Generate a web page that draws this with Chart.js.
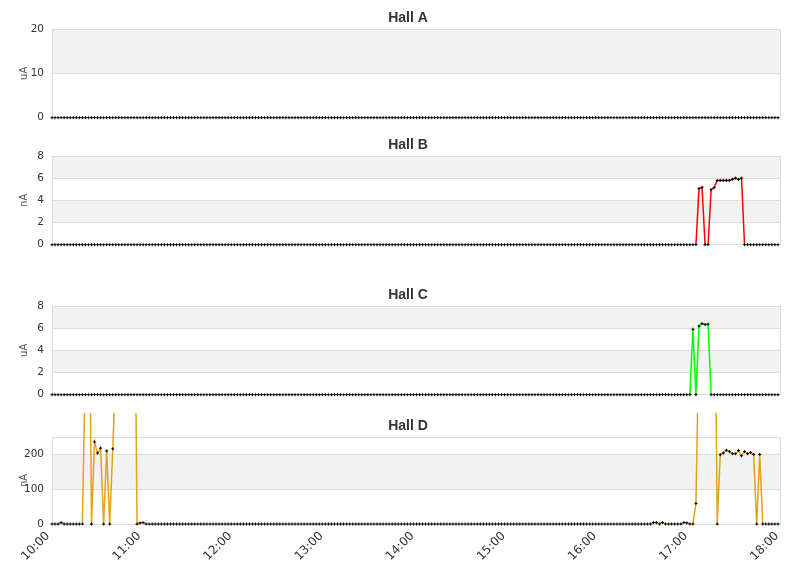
<!DOCTYPE html>
<html><head><meta charset="utf-8">
<script src="https://cdn.jsdelivr.net/npm/chart.js@4"></script>
<style>
html,body{margin:0;padding:0;background:#fff;overflow:hidden;width:811px;height:578px}
.p{position:absolute;left:5px;width:806px}
</style></head><body>
<div class="p" style="top:0px;height:132px"><canvas id="cA"></canvas></div>
<div class="p" style="top:127px;height:132px"><canvas id="cB"></canvas></div>
<div class="p" style="top:277px;height:132px"><canvas id="cC"></canvas></div>
<div class="p" style="top:408px;height:170px"><canvas id="cD"></canvas></div>
<script>
// x grid: sample times every 2 minutes from 10:00 (minutes since 10:00)
const sampleMinutes = [];
for (let k = 0; k < 240; k++) sampleMinutes.push(2 * k);
const tickLabels = ['10:00','11:00','12:00','13:00','14:00','15:00','16:00','17:00','18:00'];
const panelTitles = ['Hall A','Hall B','Hall C','Hall D'];
const unitLabels = ['uA','nA','uA','nA'];

const hallA = [
0,0,0,0,0,0,0,0,0,0,0,0,0,0,0,0,0,0,0,0,
0,0,0,0,0,0,0,0,0,0,0,0,0,0,0,0,0,0,0,0,
0,0,0,0,0,0,0,0,0,0,0,0,0,0,0,0,0,0,0,0,
0,0,0,0,0,0,0,0,0,0,0,0,0,0,0,0,0,0,0,0,
0,0,0,0,0,0,0,0,0,0,0,0,0,0,0,0,0,0,0,0,
0,0,0,0,0,0,0,0,0,0,0,0,0,0,0,0,0,0,0,0,
0,0,0,0,0,0,0,0,0,0,0,0,0,0,0,0,0,0,0,0,
0,0,0,0,0,0,0,0,0,0,0,0,0,0,0,0,0,0,0,0,
0,0,0,0,0,0,0,0,0,0,0,0,0,0,0,0,0,0,0,0,
0,0,0,0,0,0,0,0,0,0,0,0,0,0,0,0,0,0,0,0,
0,0,0,0,0,0,0,0,0,0,0,0,0,0,0,0,0,0,0,0,
0,0,0,0,0,0,0,0,0,0,0,0,0,0,0,0,0,0,0,0
];
const hallB = [
0,0,0,0,0,0,0,0,0,0,0,0,0,0,0,0,0,0,0,0,
0,0,0,0,0,0,0,0,0,0,0,0,0,0,0,0,0,0,0,0,
0,0,0,0,0,0,0,0,0,0,0,0,0,0,0,0,0,0,0,0,
0,0,0,0,0,0,0,0,0,0,0,0,0,0,0,0,0,0,0,0,
0,0,0,0,0,0,0,0,0,0,0,0,0,0,0,0,0,0,0,0,
0,0,0,0,0,0,0,0,0,0,0,0,0,0,0,0,0,0,0,0,
0,0,0,0,0,0,0,0,0,0,0,0,0,0,0,0,0,0,0,0,
0,0,0,0,0,0,0,0,0,0,0,0,0,0,0,0,0,0,0,0,
0,0,0,0,0,0,0,0,0,0,0,0,0,0,0,0,0,0,0,0,
0,0,0,0,0,0,0,0,0,0,0,0,0,0,0,0,0,0,0,0,
0,0,0,0,0,0,0,0,0,0,0,0,0,5.06,5.18,0,0,4.97,5.15,5.79,
5.8,5.8,5.8,5.8,5.9,6.0,5.88,6.0,0,0,0,0,0,0,0,0,0,0,0,0
];
const hallC = [
0,0,0,0,0,0,0,0,0,0,0,0,0,0,0,0,0,0,0,0,
0,0,0,0,0,0,0,0,0,0,0,0,0,0,0,0,0,0,0,0,
0,0,0,0,0,0,0,0,0,0,0,0,0,0,0,0,0,0,0,0,
0,0,0,0,0,0,0,0,0,0,0,0,0,0,0,0,0,0,0,0,
0,0,0,0,0,0,0,0,0,0,0,0,0,0,0,0,0,0,0,0,
0,0,0,0,0,0,0,0,0,0,0,0,0,0,0,0,0,0,0,0,
0,0,0,0,0,0,0,0,0,0,0,0,0,0,0,0,0,0,0,0,
0,0,0,0,0,0,0,0,0,0,0,0,0,0,0,0,0,0,0,0,
0,0,0,0,0,0,0,0,0,0,0,0,0,0,0,0,0,0,0,0,
0,0,0,0,0,0,0,0,0,0,0,0,0,0,0,0,0,0,0,0,
0,0,0,0,0,0,0,0,0,0,0,5.9,0,6.18,6.42,6.33,6.36,0,0,0,
0,0,0,0,0,0,0,0,0,0,0,0,0,0,0,0,0,0,0,0
];
const hallD = [
0,0,0,4,0,0,0,0,0,0,0,480,1000,0,236,204,218,0,210,0,
216,440,900,1100,1000,1050,980,950,0,3,4,0,0,0,0,0,0,0,0,0,
0,0,0,0,0,0,0,0,0,0,0,0,0,0,0,0,0,0,0,0,
0,0,0,0,0,0,0,0,0,0,0,0,0,0,0,0,0,0,0,0,
0,0,0,0,0,0,0,0,0,0,0,0,0,0,0,0,0,0,0,0,
0,0,0,0,0,0,0,0,0,0,0,0,0,0,0,0,0,0,0,0,
0,0,0,0,0,0,0,0,0,0,0,0,0,0,0,0,0,0,0,0,
0,0,0,0,0,0,0,0,0,0,0,0,0,0,0,0,0,0,0,0,
0,0,0,0,0,0,0,0,0,0,0,0,0,0,0,0,0,0,0,0,
0,0,0,0,0,0,0,0,0,0,0,0,0,0,0,0,0,0,4,4,
0,4,0,0,0,0,0,0,4,3,0,0,59,550,900,1000,950,1000,960,0,
199,204,212,208,202,202,211,196,208,202,205,200,0,200,0,0,0,0,0,0
];

const bandsPlugin = {
  id: 'bands',
  beforeDraw(chart) {
    const {ctx, chartArea: a, scales: {y}} = chart;
    ctx.save();
    ctx.fillStyle = '#f2f2f2';
    const t = y.ticks;
    for (let i = 0; i < t.length - 1; i++) {
      if (i % 2 === 1) {
        const y0 = y.getPixelForValue(t[i].value), y1 = y.getPixelForValue(t[i + 1].value);
        ctx.fillRect(a.left, y1, a.right - a.left, y0 - y1);
      }
    }
    ctx.restore();
  },
  beforeDatasetsDraw(chart) {
    const {ctx, chartArea: a} = chart;
    ctx.save();
    ctx.strokeStyle = '#dddddd';
    ctx.lineWidth = 1;
    const x = Math.round(a.right) - 0.5;
    ctx.beginPath(); ctx.moveTo(x, a.top); ctx.lineTo(x, a.bottom); ctx.stroke();
    ctx.restore();
  }
};

function makeChart(id, title, unit, values, color, yMax, yStep, isBottom) {
  const pts = values.map((v, i) => ({x: sampleMinutes[i], y: v}));
  const xScale = {
    type: 'linear', min: 0, max: 480, display: isBottom,
    grid: { display: false }, border: { display: false },
    ticks: {
      stepSize: 60, autoSkip: false, maxRotation: 45, minRotation: 45,
      color: '#333', font: { family: 'DejaVu Sans', size: 12 }, padding: -3, labelOffset: -4,
      callback: v => (v % 60 === 0 ? tickLabels[v / 60] : '')
    }
  };
  if (isBottom) xScale.afterFit = s => { s.height = 54; };
  return new Chart(document.getElementById(id), {
    type: 'line',
    data: { datasets: [{
      data: pts,
      borderColor: color,
      borderWidth: 1.5,
      tension: 0,
      pointStyle: 'cross',
      pointRadius: 1.5,
      pointHoverRadius: 1.5,
      pointBorderColor: '#000',
      pointBackgroundColor: '#000',
      pointBorderWidth: 1,
      clip: {left: 3, right: 3, top: isBottom ? 24 : 3, bottom: 3},
      segment: {
        borderColor: c => (c.p0.parsed.y === 0 && c.p1.parsed.y === 0) ? 'rgba(0,0,0,0)' : color
      }
    }]},
    options: {
      responsive: true,
      maintainAspectRatio: false,
      animation: false,
      events: [],
      layout: { padding: { left: 0, right: 0, top: 0, bottom: isBottom ? 0 : 10 } },
      plugins: {
        legend: { display: false },
        tooltip: { enabled: false },
        title: {
          display: true, text: title, color: '#333',
          font: { family: 'Liberation Sans', size: 14, weight: 'bold' },
          padding: { top: 10, bottom: 2.2 }
        }
      },
      scales: {
        x: xScale,
        y: {
          min: 0, max: yMax,
          ticks: {
            stepSize: yStep, autoSkip: false, color: '#333', font: { family: 'DejaVu Sans', size: 10.5 }, padding: 8,
            callback: v => (v % yStep === 0 ? String(v) : '')
          },
          grid: { color: '#dddddd', drawTicks: false, lineWidth: 1 },
          border: { display: true, color: '#dddddd' },
          title: {
            display: true, text: unit, color: '#555',
            font: { family: 'DejaVu Sans', size: 10 }, padding: { top: 13, bottom: 0 }
          },
          afterFit: s => { s.width = 47; }
        },
        yRight: {
          position: 'right', min: 0, max: 1,
          ticks: { display: false }, grid: { display: false }, border: { display: false },
          afterFit: s => { s.width = 30; }
        }
      }
    },
    plugins: [bandsPlugin]
  });
}

makeChart('cA', panelTitles[0], unitLabels[0], hallA, '#4572a7', 20, 10, false);
makeChart('cB', panelTitles[1], unitLabels[1], hallB, '#ff0000', 8, 2, false);
makeChart('cC', panelTitles[2], unitLabels[2], hallC, '#00ff00', 8, 2, false);
makeChart('cD', panelTitles[3], unitLabels[3], hallD, '#e3a21a', 250, 100, true);
</script>
</body></html>
